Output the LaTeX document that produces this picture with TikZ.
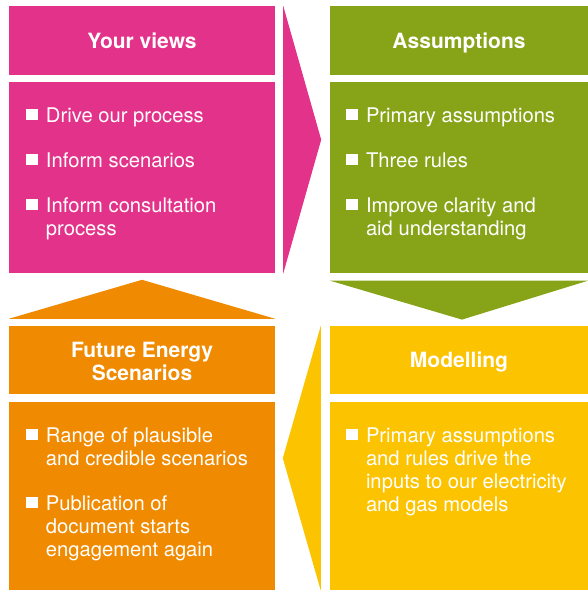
\documentclass[tikz,border=0pt]{standalone}
\usepackage{fontspec}
\setmainfont{TeX Gyre Heros}
\usepackage{tikz}
\usetikzlibrary{positioning,calc}
\definecolor{fesPink}{HTML}{E3328A}
\definecolor{fesGreen}{HTML}{87A419}
\definecolor{fesYellow}{HTML}{FBC300}
\definecolor{fesOrange}{HTML}{F08A00}
\newcommand{\sq}{\makebox[20pt][l]{\rule{0pt}{16pt}\rule[2pt]{12pt}{11pt}}}
\newcommand{\ind}{\hspace*{20pt}}
\tikzset{
  hd/.style={fill=#1, minimum height=69pt, inner sep=0pt, text=white, font=\fontsize{21}{23}\selectfont\bfseries, align=center, text height=19pt, text depth=4pt},
  bd/.style={fill=#1, minimum height=191pt, inner sep=0pt},
  items/.style={text=white, font=\fontsize{20.2}{23}\selectfont, align=left, inner sep=0pt, anchor=north west}
}

\begin{document}
\begin{tikzpicture}[x=1pt, y=1pt]
\useasboundingbox (0,0) rectangle (588,-590);
\node[hd=fesPink, minimum width=266pt] (V) at (142,-40.5) {Your views};
\node[bd=fesPink, minimum width=266pt, below=7pt of V] (Vb) {};
\node[hd=fesGreen, minimum width=258pt] (A) at (459,-40.5) {Assumptions};
\node[bd=fesGreen, minimum width=258pt, below=7pt of A] (Ab) {};
\node[hd=fesOrange, minimum width=266pt, minimum height=68pt, text height=44pt] (F) at (142,-360) {Future Energy\\Scenarios};
\node[bd=fesOrange, minimum width=266pt, minimum height=188pt, below=8pt of F] (Fb) {};
\node[hd=fesYellow, minimum width=258pt, minimum height=68pt] (M) at (459,-360) {Modelling};
\node[bd=fesYellow, minimum width=258pt, minimum height=188pt, below=8pt of M] (Mb) {};

\fill[fesPink] ($(V.north east)+(8,0)$) -- ($(V.north east)!0.5!(Vb.south east)+(46,0)$) -- ($(Vb.south east)+(8,0)$) -- cycle;
\fill[fesGreen] ($(Ab.south west)+(0,-7)$) -- ($(Ab.south west)!0.5!(Ab.south east)+(3,-46)$) -- ($(Ab.south east)+(0,-7)$) -- cycle;
\fill[fesYellow] ($(M.north west)+(-9,0)$) -- ($(M.north west)!0.5!(Mb.south west)+(-47,0)$) -- ($(Mb.south west)+(-9,0)$) -- cycle;
\fill[fesOrange] ($(F.north west)+(0,7)$) -- ($(F.north west)!0.5!(F.north east)+(0,46)$) -- ($(F.north east)+(0,7)$) -- cycle;

\node[items] (Vt) at ([shift={(17,-24)}]Vb.north west) {\sq Drive our process\\[22pt]%
\sq Inform scenarios\\[22pt]%
\sq Inform consultation\\%
\ind process};
\node[items] (At) at ([shift={(16,-24)}]Ab.north west) {\sq Primary assumptions\\[22pt]%
\sq Three rules\\[22pt]%
\sq Improve clarity and\\%
\ind aid understanding};
\node[items] (Ft) at ([shift={(17,-24)}]Fb.north west) {\sq Range of plausible\\%
\ind and credible scenarios\\[22pt]%
\sq Publication of\\%
\ind document starts\\%
\ind engagement again};
\node[items] (Mt) at ([shift={(16,-24)}]Mb.north west) {\sq Primary assumptions\\%
\ind and rules drive the\\%
\ind inputs to our electricity\\%
\ind and gas models};
\end{tikzpicture}
\end{document}
